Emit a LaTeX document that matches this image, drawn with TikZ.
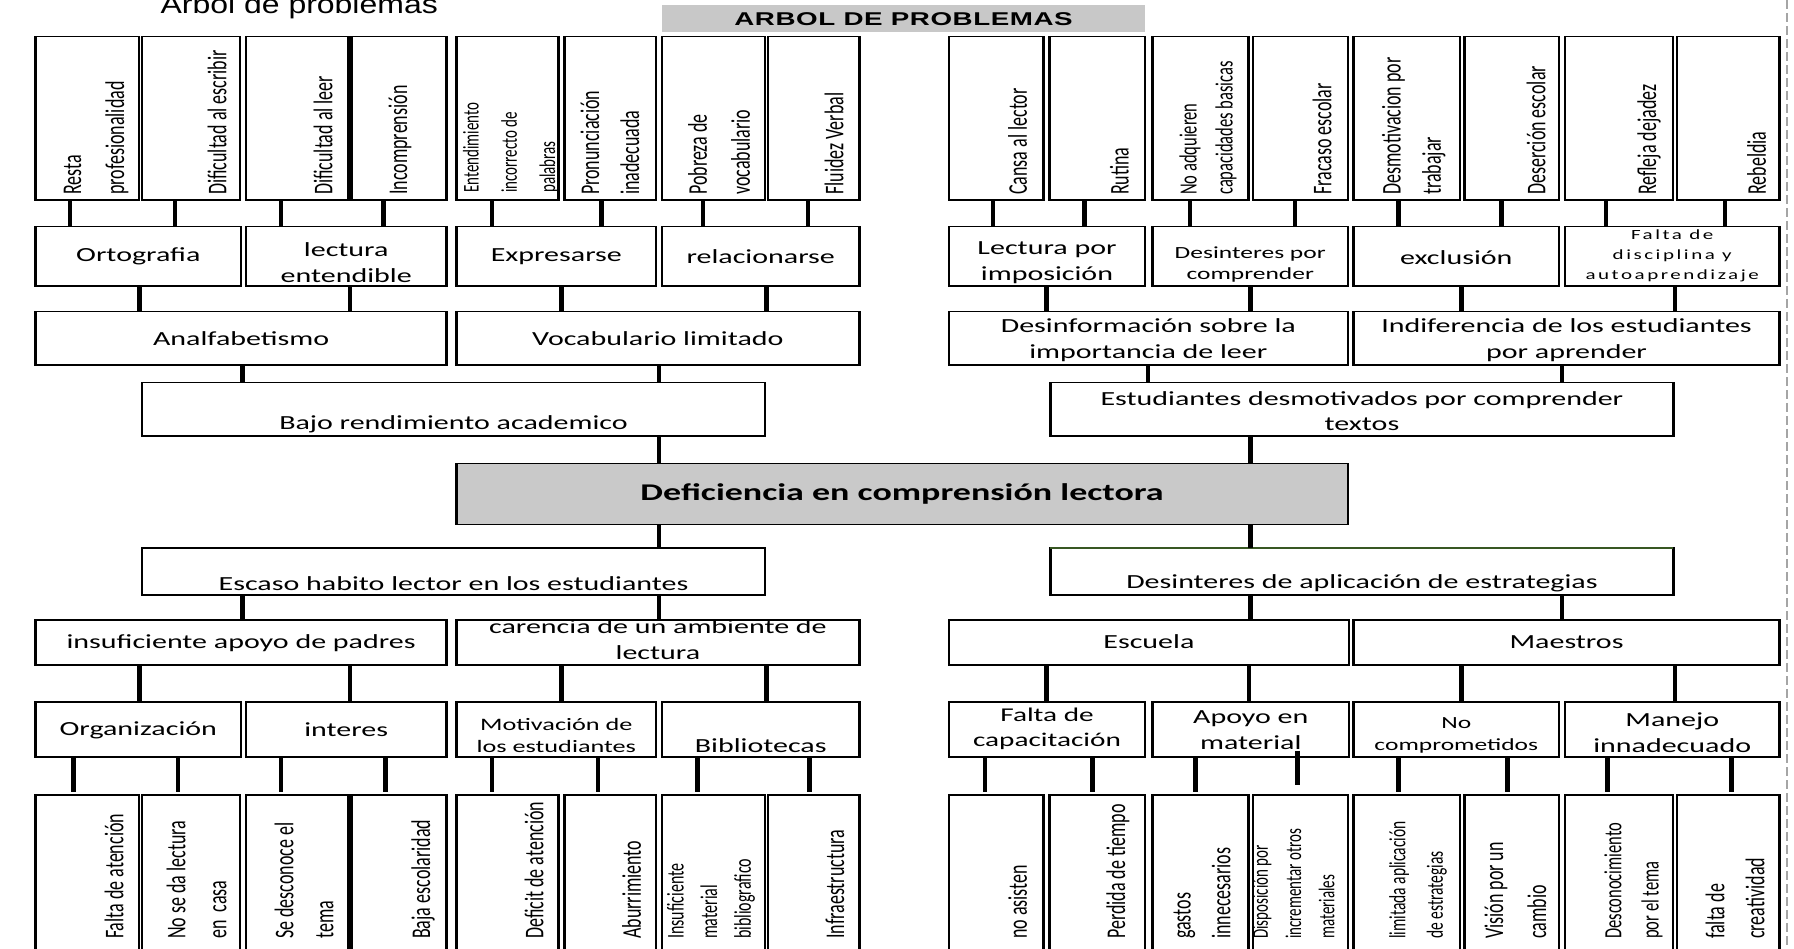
\documentclass[tikz,border=0pt]{standalone}
\usepackage{fontspec}
\setmainfont{Carlito}
\newfontfamily\titlefont{Liberation Sans}[FakeStretch=0.82]
\newfontfamily\bannerfont{Liberation Sans}[LetterSpace=2]
\newfontfamily\spacedfont{Carlito}[LetterSpace=12]
\newcommand{\setfs}[2]{\fontsize{#1}{#2}\selectfont}
\newcommand{\mkbox}[6]{\node[box,#1,minimum width={(#5-#3)/1.5*1pt},minimum height={(#6-#4)*1pt}] (#2) at ({(#3+#5)/2},{(#4+#6)/2}) {};}
\newcommand{\link}[4][]{\draw[conn,#1] (#2,0 |- #3.south) -- (#2,0 |- #4.north);}
\definecolor{boxgray}{RGB}{201,201,201}
\definecolor{bannergray}{RGB}{200,200,200}
\definecolor{edgegreen}{RGB}{56,87,35}
\definecolor{dashgray}{RGB}{165,165,165}
\tikzset{
  box/.style={draw, line width=1.6pt, inner sep=0pt, outer sep=0pt},
  conn/.style={line width=3.2pt},
  htxt/.style={inner sep=0pt, align=center, font=\setfs{20}{26}},
  vtxt/.style={rotate=90, anchor=west, inner sep=0pt, align=left, font=\setfs{18}{27}},
  pageedge/.style={draw=dashgray, line width=1.6pt, dash pattern=on 9pt off 4pt}
}
\begin{document}
\begin{tikzpicture}
\useasboundingbox (0pt,0pt) rectangle (1794pt,-949pt);
\clip (0pt,0pt) rectangle (1794pt,-949pt);
\draw[pageedge] (1787pt,0pt) -- (1787pt,-949pt);
\begin{scope}[transform canvas={xscale=1.5}, x=0.666667pt, y=-1pt]
% title and banner
\node[anchor=base, inner sep=0pt, font=\titlefont\setfs{26}{30}] (title) at (299.2,14) {Arbol de problemas};
\mkbox{draw=none, fill=bannergray}{banner}{662}{5}{1145}{31.7}
\node[inner sep=0pt, font=\bannerfont\bfseries\setfs{18.5}{20}] (bannert) at (903.5,19) {ARBOL DE PROBLEMAS};
% top row
\mkbox{}{L1}{35.6}{36.7}{138.9}{200}
\mkbox{}{L2}{141.8}{36.7}{240}{200}
\mkbox{}{L3}{245.7}{36.7}{348.5}{200}
\mkbox{}{L4}{351.3}{36.7}{446.6}{200}
\mkbox{}{L5}{456.4}{36.7}{558.6}{200}
\mkbox{}{L6}{564.3}{36.7}{656.1}{200}
\mkbox{}{L7}{661.9}{36.7}{765.2}{200}
\mkbox{}{L8}{768.1}{36.7}{859.4}{200}
\mkbox{}{R1}{948.8}{36.7}{1043.5}{200}
\mkbox{}{R2}{1049.3}{36.7}{1145.1}{200}
\mkbox{}{R3}{1152.6}{36.7}{1248.5}{200}
\mkbox{}{R4}{1253}{36.7}{1347.8}{200}
\mkbox{}{R5}{1353.5}{36.7}{1459.7}{200}
\mkbox{}{R6}{1464.3}{36.7}{1559}{200}
\mkbox{}{R7}{1564.8}{36.7}{1673.2}{200}
\mkbox{}{R8}{1676.7}{36.7}{1779.5}{200}
\node[vtxt, font=\setfs{18}{28.7}] (L1t) at (96.2,195) {Resta\\profesionalidad};
\node[vtxt] (L2t) at (217,195) {Dificultad al escribir};
\node[vtxt] (L3t) at (323,195) {Dificultad al leer};
\node[vtxt] (L4t) at (400,195) {Incomprensión};
\node[vtxt, font=\setfs{15}{25.5}] (L5t) at (510.8,193) {Entendimiento\\incorrecto de\\palabras};
\node[vtxt, font=\setfs{18}{26.7}] (L6t) at (610,195) {Pronunciación\\inadecuada};
\node[vtxt, font=\setfs{18}{28.7}] (L7t) at (719,195) {Pobreza de\\vocabulario};
\node[vtxt] (L8t) at (834,195) {Fluidez Verbal};
\node[vtxt] (R1t) at (1017.7,195) {Cansa al lector};
\node[vtxt] (R2t) at (1119.3,195) {Rutina};
\node[vtxt, font=\setfs{16.5}{24}] (R3t) at (1208,195) {No adquieren\\capacidades basicas};
\node[vtxt] (R4t) at (1322,195) {Fracaso escolar};
\node[vtxt, font=\setfs{18}{26.8}] (R5t) at (1413.8,195) {Desmotivacion por\\trabajar};
\node[vtxt] (R6t) at (1536,195) {Deserción escolar};
\node[vtxt] (R7t) at (1649,195) {Refleja dejadez};
\node[vtxt] (R8t) at (1756.5,195) {Rebeldia};
% row 2
\mkbox{}{A1}{35.6}{226.7}{241}{286}
\mkbox{}{A2}{245.7}{226.7}{446.6}{286}
\mkbox{}{A3}{456.4}{226.7}{656.1}{286}
\mkbox{}{A4}{661.9}{226.7}{859.4}{286}
\mkbox{}{A5}{948.8}{226.7}{1145.1}{286}
\mkbox{}{A6}{1152.6}{226.7}{1347.8}{286}
\mkbox{}{A7}{1353.5}{226.7}{1559}{286}
\mkbox{}{A8}{1564.8}{226.7}{1779.5}{286}
\node[htxt] (A1t) at (138.3,256.7) {Ortografia};
\node[htxt] (A2t) at (346.2,262.3) {lectura\\entendible};
\node[htxt] (A3t) at (556.3,256.7) {Expresarse};
\node[htxt] (A4t) at (760.7,256.7) {relacionarse};
\node[htxt] (A5t) at (1047,262.3) {Lectura por\\imposición};
\node[htxt, font=\setfs{17}{21.3}] (A6t) at (1250.2,264.7) {Desinteres por\\comprender};
\node[htxt] (A7t) at (1456.3,257.3) {exclusión};
\node[htxt, font=\spacedfont\setfs{14}{20.3}] (A8t) at (1672.2,255.7) {Falta de\\disciplina y\\autoaprendizaje};
% row 3
\mkbox{}{B1}{35.6}{311.7}{446.6}{365}
\mkbox{}{B2}{456.4}{311.7}{859.4}{365}
\mkbox{}{B3}{948.8}{311.7}{1347.8}{365}
\mkbox{}{B4}{1353.5}{311.7}{1779.5}{365}
\node[htxt] (B1t) at (241.1,339) {Analfabetismo};
\node[htxt] (B2t) at (657.9,339) {Vocabulario limitado};
\node[htxt, font=\setfs{20}{25.4}] (B3t) at (1148.3,340) {Desinformación sobre la\\importancia de leer};
\node[htxt, font=\setfs{20}{25.4}] (B4t) at (1566.5,340) {Indiferencia de los estudiantes\\por aprender};
% row 4
\mkbox{}{C1}{141.8}{382.7}{765.2}{436}
\mkbox{}{C2}{1050.4}{382.7}{1673.3}{436}
\node[htxt] (C1t) at (453.5,424) {Bajo rendimiento academico};
\node[htxt, font=\setfs{20}{25.7}] (C2t) at (1361.9,411) {Estudiantes desmotivados por comprender\\textos};
% central
\mkbox{fill=boxgray}{D}{456.4}{463.3}{1347.8}{524.3}
\node[htxt, font=\bfseries\setfs{24}{28}] (Dt) at (902.1,494) {Deficiencia en comprensión lectora};
% row 5
\mkbox{}{E1}{141.8}{547.7}{765.2}{595}
\mkbox{}{E2}{1050.4}{547.7}{1673.3}{595}
\draw[draw=edgegreen, line width=1.8pt] (E2.north west) -- (E2.north east);
\node[htxt] (E1t) at (453.5,583.3) {Escaso habito lector en los estudiantes};
\node[htxt] (E2t) at (1361.9,583.3) {Desinteres de aplicación de estrategias};
% row 6
\mkbox{}{F1}{35.6}{620}{446.6}{665}
\mkbox{}{F2}{456.4}{620}{859.4}{665}
\mkbox{}{F3}{948.8}{620}{1348.9}{665}
\mkbox{}{F4}{1353.5}{620}{1779.5}{665}
\node[htxt] (F1t) at (241.1,642.7) {insuficiente apoyo de padres};
\node[htxt] (F2t) at (657.9,639.7) {carencia de un ambiente de\\lectura};
\node[htxt] (F3t) at (1148.9,641.7) {Escuela};
\node[htxt] (F4t) at (1566.5,641.7) {Maestros};
% row 7
\mkbox{}{G1}{35.6}{701.7}{241}{756.7}
\mkbox{}{G2}{245.7}{701.7}{446.6}{756.7}
\mkbox{}{G3}{456.4}{701.7}{656.1}{756.7}
\mkbox{}{G4}{661.9}{701.7}{859.4}{756.7}
\mkbox{}{G5}{948.8}{701.7}{1145.1}{756.7}
\mkbox{}{G6}{1152.6}{701.7}{1348.9}{756.7}
\mkbox{}{G7}{1353.5}{701.7}{1559}{756.7}
\mkbox{}{G8}{1564.8}{701.7}{1779.5}{756.7}
\node[htxt] (G1t) at (138.3,730) {Organización};
\node[htxt] (G2t) at (346.2,730) {interes};
\node[htxt, font=\setfs{17.5}{21.7}] (G3t) at (556.3,735.8) {Motivación de\\los estudiantes};
\node[htxt] (G4t) at (760.7,745.7) {Bibliotecas};
\node[htxt, font=\setfs{19.5}{25.7}] (G5t) at (1047,728.8) {Falta de\\capacitación};
\node[htxt, font=\setfs{20}{25.4}] (G6t) at (1250.8,730) {Apoyo en\\material};
\node[htxt, font=\setfs{17}{22.4}] (G7t) at (1456.3,735.5) {No\\comprometidos};
\node[htxt] (G8t) at (1672.2,733) {Manejo\\innadecuado};
% bottom row
\mkbox{}{b1}{35.6}{795}{138.9}{965}
\mkbox{}{b2}{141.8}{795}{240}{965}
\mkbox{}{b3}{245.7}{795}{348.5}{965}
\mkbox{}{b4}{351.3}{795}{446.6}{965}
\mkbox{}{b5}{456.4}{795}{558.6}{965}
\mkbox{}{b6}{564.3}{795}{656.1}{965}
\mkbox{}{b7}{661.9}{795}{765.2}{965}
\mkbox{}{b8}{768.1}{795}{859.4}{965}
\mkbox{}{b9}{948.8}{795}{1043.5}{965}
\mkbox{}{b10}{1049.3}{795}{1145.1}{965}
\mkbox{}{b11}{1152.6}{795}{1248.5}{965}
\mkbox{}{b12}{1253}{795}{1347.8}{965}
\mkbox{}{b13}{1353.5}{795}{1459.7}{965}
\mkbox{}{b14}{1464.3}{795}{1559}{965}
\mkbox{}{b15}{1564.8}{795}{1673.2}{965}
\mkbox{}{b16}{1676.7}{795}{1779.5}{965}
\node[vtxt] (b1t) at (114,939) {Falta de atención};
\node[vtxt, font=\setfs{18}{27.3}] (b2t) at (196.5,939) {No se da lectura\\en\ \ casa};
\node[vtxt, font=\setfs{18}{26.7}] (b3t) at (304,939) {Se desconoce el\\tema};
\node[vtxt] (b4t) at (423,939) {Baja escolaridad};
\node[vtxt] (b5t) at (534,939) {Deficit de atención};
\node[vtxt] (b6t) at (631.5,939) {Aburrimiento};
\node[vtxt, font=\setfs{16}{22.4}] (b7t) at (711,939) {Insuficiente\\material\\bibliografico};
\node[vtxt] (b8t) at (835,939) {Infraestructura};
\node[vtxt] (b9t) at (1017.7,939) {no asisten};
\node[vtxt] (b10t) at (1118,939) {Perdida de tiempo};
\node[vtxt, font=\setfs{18}{26.4}] (b11t) at (1202,939) {gastos\\innecesarios};
\node[vtxt, font=\setfs{15}{22.2}] (b12t) at (1293.4,939) {Disposición por\\incrementar otros\\materiales};
\node[vtxt, font=\setfs{15.5}{24.9}] (b13t) at (1418,939) {limitada aplicación\\de estrategias};
\node[vtxt, font=\setfs{18}{28.7}] (b14t) at (1515.5,939) {Visión por un\\cambio};
\node[vtxt, font=\setfs{16.5}{24.9}] (b15t) at (1633.4,939) {Desconocimiento\\por el tema};
\node[vtxt, font=\setfs{18}{26.7}] (b16t) at (1735,939) {falta de\\creatividad};
% connectors
\link{70}{L1}{A1} \link{175}{L2}{A1} \link{281}{L3}{A2} \link{383.5}{L4}{A2}
\link{492}{L5}{A3} \link{601.6}{L6}{A3} \link{703}{L7}{A4} \link{808}{L8}{A4}
\link{993}{R1}{A5} \link{1084.8}{R2}{A5} \link{1189.9}{R3}{A6} \link{1295}{R4}{A6}
\link{1398.3}{R5}{A7} \link{1501.6}{R6}{A7} \link{1606}{R7}{A8} \link{1725}{R8}{A8}
\link{139.5}{A1}{B1} \link{350}{A2}{B1} \link{561.4}{A3}{B2} \link{766.4}{A4}{B2}
\link{1046.4}{A5}{B3} \link{1250.2}{A6}{B3} \link{1461.4}{A7}{B4} \link{1675}{A8}{B4}
\link{242.8}{B1}{C1} \link{659}{B2}{C1} \link{1148}{B3}{C2} \link{1561.9}{B4}{C2}
\link{659}{C1}{D} \link{1250.2}{C2}{D}
\link{659}{D}{E1} \link{1250.2}{D}{E2}
\link{242.8}{E1}{F1} \link{659}{E1}{F2} \link{1250.2}{E2}{F3} \link{1561.9}{E2}{F4}
\link{139.5}{F1}{G1} \link{350}{F1}{G2} \link{561.4}{F2}{G3} \link{766.4}{F2}{G4}
\link{1046.4}{F3}{G5} \link{1249}{F3}{G6} \link{1461.4}{F4}{G7} \link{1675}{F4}{G8}
\link[shorten >=3.5pt]{73.5}{G1}{b1} \link[shorten >=3.5pt]{178}{G1}{b2}
\link[shorten >=3.5pt]{281}{G2}{b3} \link[shorten >=3.5pt]{385.8}{G2}{b4}
\link[shorten >=3.5pt]{492}{G3}{b5} \link[shorten >=3.5pt]{598}{G3}{b6}
\link[shorten >=3.5pt]{697.5}{G4}{b7} \link[shorten >=3.5pt]{809.4}{G4}{b8}
\link[shorten >=3.5pt]{985}{G5}{b9} \link[shorten >=3.5pt]{1092.3}{G5}{b10}
\link[shorten >=3.5pt]{1195.6}{G6}{b11} \link[shorten <=-6pt, shorten >=10pt]{1297.8}{G6}{b12}
\link[shorten >=3.5pt]{1398.3}{G7}{b13} \link[shorten >=3.5pt]{1507.4}{G7}{b14}
\link[shorten >=3.5pt]{1607.8}{G8}{b15} \link[shorten >=3.5pt]{1731.2}{G8}{b16}
\end{scope}
\end{tikzpicture}
\end{document}
